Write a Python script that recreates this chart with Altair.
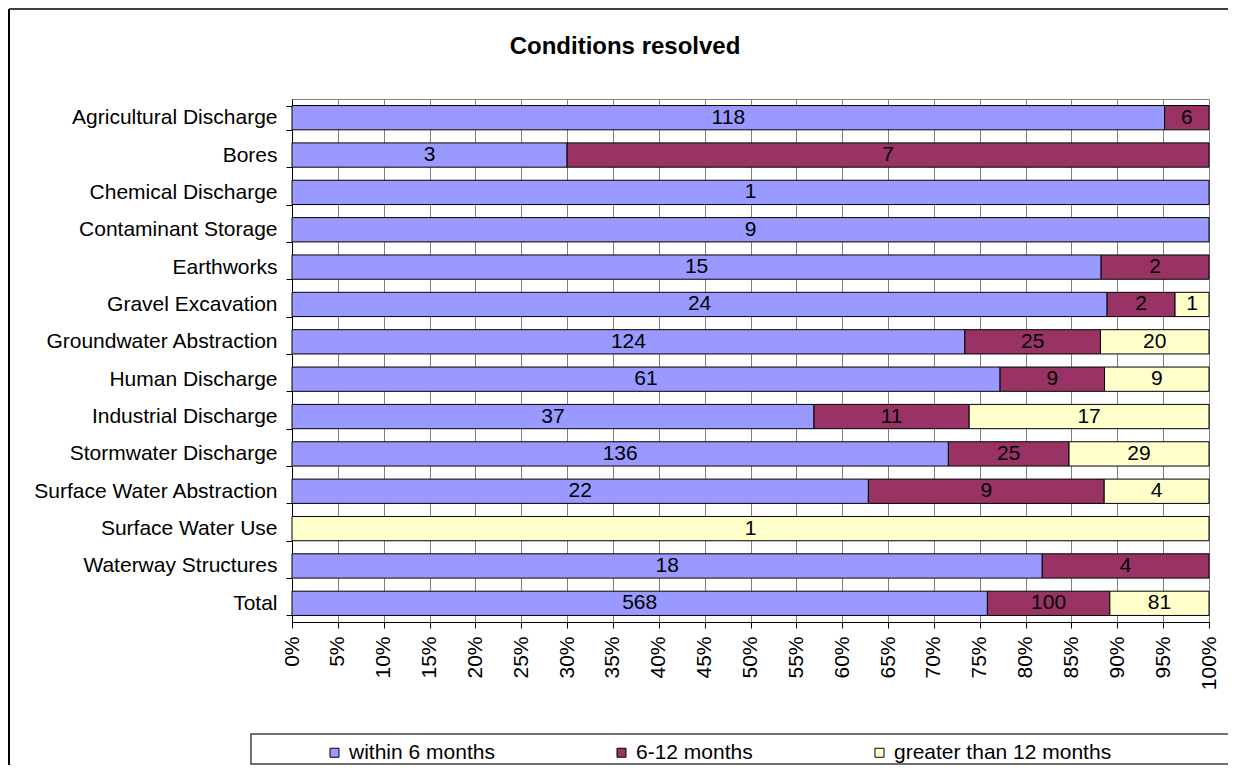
import altair as alt
import pandas as pd

categories = ["Agricultural Discharge", "Bores", "Chemical Discharge", "Contaminant Storage",
              "Earthworks", "Gravel Excavation", "Groundwater Abstraction", "Human Discharge",
              "Industrial Discharge", "Stormwater Discharge", "Surface Water Abstraction",
              "Surface Water Use", "Waterway Structures", "Total"]
within_6 = [118, 3, 1, 9, 15, 24, 124, 61, 37, 136, 22, 0, 18, 568]
months_6_12 = [6, 7, 0, 0, 2, 2, 25, 9, 11, 25, 9, 0, 4, 100]
over_12 = [0, 0, 0, 0, 0, 1, 20, 9, 17, 29, 4, 1, 0, 81]
series = ["within 6 months", "6-12 months", "greater than 12 months"]
colors = ["#9999FF", "#993366", "#FFFFCC"]
x_ticks = [0, 0.05, 0.10, 0.15, 0.20, 0.25, 0.30, 0.35, 0.40, 0.45, 0.50,
           0.55, 0.60, 0.65, 0.70, 0.75, 0.80, 0.85, 0.90, 0.95, 1.0]
title_text = "Conditions resolved"

rows = []
for i, cat in enumerate(categories):
    for j, vals in enumerate([within_6, months_6_12, over_12]):
        if vals[i] > 0:
            rows.append({"cat": cat, "series": series[j], "count": vals[i], "order": j})
df = pd.DataFrame(rows)

FONT = "Liberation Sans"
FS = 21
W, H = 917, 523

base = alt.Chart(df)

ysc = alt.Scale(paddingInner=0.35, paddingOuter=0.175)

bars = base.mark_bar(stroke="black", strokeWidth=1).encode(
    y=alt.Y("cat:N", sort=categories, title=None, scale=ysc,
            axis=alt.Axis(tickBand="extent", domainColor="black", tickColor="black",
                          tickSize=6, labelPadding=9, labelFontSize=FS, labelFont=FONT,
                          labelColor="black", labelLimit=400, grid=False)),
    x=alt.X("count:Q", stack="normalize", title=None,
            scale=alt.Scale(domain=[0, 1], nice=False),
            axis=alt.Axis(values=x_ticks, format=".0%", labelAngle=270, labelFontSize=FS,
                          labelFont=FONT, labelColor="black", labelPadding=8, tickSize=6,
                          tickColor="black", domainColor="black", grid=True,
                          gridColor="#808080", labelOverlap=False, labelFlush=False)),
    color=alt.Color("series:N", scale=alt.Scale(domain=series, range=colors),
                    legend=alt.Legend(orient="none", legendX=32, legendY=643, title=None,
                                      direction="horizontal", columns=3, columnPadding=116,
                                      labelFontSize=FS, labelFont=FONT, labelColor="black",
                                      labelLimit=400,
                                      symbolType="square", symbolSize=81,
                                      symbolStrokeColor="black", symbolStrokeWidth=1,
                                      labelOffset=4, padding=0)),
    order=alt.Order("order:Q"),
)

text = base.transform_stack(
    stack="count", groupby=["cat"], sort=[alt.SortField("order")],
    as_=["s0", "s1"], offset="normalize",
).transform_calculate(mid="(datum.s0 + datum.s1) / 2").mark_text(
    fontSize=FS, font=FONT, color="black", baseline="middle", align="center"
).encode(
    y=alt.Y("cat:N", sort=categories, scale=ysc),
    x=alt.X("mid:Q"),
    text="count:Q",
)

one = alt.Chart(pd.DataFrame({"t": [title_text]}))
title = one.mark_text(fontSize=24, font=FONT, fontWeight="bold", color="black",
                      align="center", baseline="alphabetic").encode(
    x=alt.value(333), y=alt.value(-45), text="t:N")
legend_box = one.mark_rect(fill="white", stroke="#404040", strokeWidth=1.5).encode(
    x=alt.value(-41), x2=alt.value(980), y=alt.value(635), y2=alt.value(665))
top_border = one.mark_rule(color="#404040", strokeWidth=2).encode(
    x=alt.value(-283), x2=alt.value(980), y=alt.value(-90))
left_border = one.mark_rule(color="black", strokeWidth=2).encode(
    x=alt.value(-283), y=alt.value(-90), y2=alt.value(700))

chart = alt.layer(legend_box, bars, text, title, top_border, left_border).properties(
    width=W, height=H,
    autosize=alt.AutoSizeParams(type="none"),
    padding={"left": 284, "top": 91, "right": 19, "bottom": 143},
).configure_view(stroke="#808080")

chart.save("out.html", embed_options={"renderer": "svg", "actions": False})
